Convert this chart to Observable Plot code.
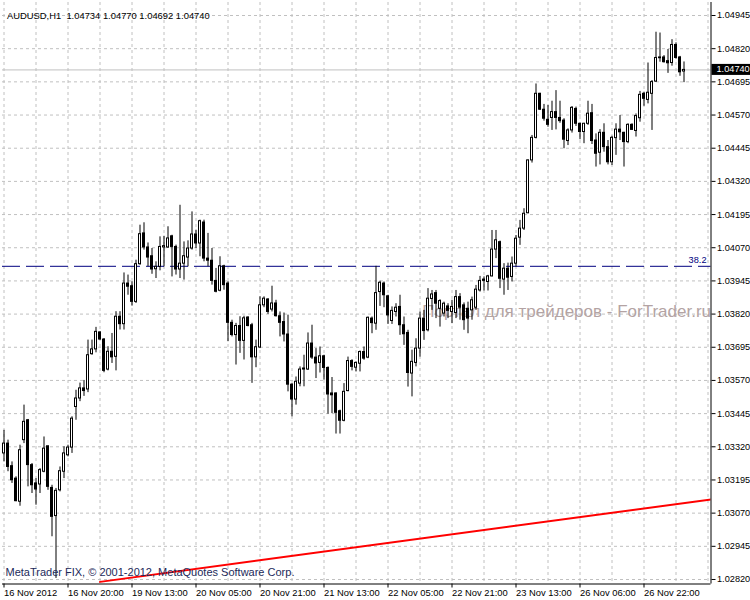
<!DOCTYPE html>
<html><head><meta charset="utf-8">
<script src="https://cdn.jsdelivr.net/npm/d3@7"></script>
<script src="https://cdn.jsdelivr.net/npm/@observablehq/plot@0.6"></script>
<style>
body{margin:0;background:#fff;}
#chart{width:750px;height:600px;}
svg{display:block}
</style></head><body><div id="chart"></div>
<script>
const header = "AUDUSD,H1  1.04734 1.04770 1.04692 1.04740";
const copyright = "MetaTrader FIX, \u00a9 2001-2012, MetaQuotes Software Corp.";
const watermark = "Портал для трейдеров - ForTrader.ru";

const open = [
1.03295,1.03332,1.03247,1.03200,1.03113,1.03345,1.03420,1.03251,1.03182,1.03178,
1.03226,1.03322,1.03165,1.03059,1.03156,1.03226,1.03288,1.03317,1.03470,1.03502,
1.03540,1.03536,1.03669,1.03687,1.03751,1.03724,1.03611,1.03678,1.03659,1.03810,
1.03782,1.03935,1.03925,1.03866,1.04008,1.04124,1.04071,1.04038,1.03989,1.03998,
1.04071,1.04071,1.04113,1.04073,1.03988,1.04010,1.04033,1.04067,1.04120,1.04086,
1.04165,1.04029,1.04021,1.03945,1.03908,1.04000,1.03935,1.03787,1.03741,1.03775,
1.03719,1.03807,1.03778,1.03657,1.03694,1.03853,1.03875,1.03837,1.03860,1.03812,
1.03790,1.03743,1.03554,1.03498,1.03558,1.03615,1.03611,1.03709,1.03656,1.03636,
1.03661,1.03617,1.03521,1.03521,1.03454,1.03418,1.03530,1.03643,1.03618,1.03633,
1.03677,1.03656,1.03803,1.03784,1.03903,1.03935,1.03887,1.03794,1.03828,1.03847,
1.03778,1.03749,1.03596,1.03636,1.03690,1.03803,1.03759,1.03877,1.03899,1.03840,
1.03822,1.03849,1.03828,1.03824,1.03884,1.03853,1.03840,1.03834,1.03844,1.03909,
1.03950,1.03941,1.03962,1.04063,1.04091,1.03950,1.03991,1.03960,1.04010,1.04108,
1.04142,1.04200,1.04399,1.04484,1.04650,1.04590,1.04552,1.04559,1.04581,1.04559,
1.04549,1.04472,1.04512,1.04593,1.04537,1.04506,1.04537,1.04577,1.04474,1.04428,
1.04503,1.04449,1.04392,1.04483,1.04515,1.04503,1.04468,1.04533,1.04510,1.04558,
1.04650,1.04627,1.04650,1.04696,1.04787,1.04787,1.04773,1.04766,1.04834,1.04787,
1.04734];
const high = [
1.03382,1.03345,1.03263,1.03207,1.03326,1.03477,1.03423,1.03257,1.03200,1.03238,
1.03357,1.03322,1.03175,1.03163,1.03244,1.03320,1.03326,1.03433,1.03533,1.03560,
1.03570,1.03722,1.03722,1.03770,1.03753,1.03728,1.03697,1.03747,1.03829,1.03829,
1.03975,1.03967,1.03942,1.04023,1.04155,1.04164,1.04088,1.04067,1.04017,1.04111,
1.04113,1.04149,1.04117,1.04080,1.04230,1.04092,1.04096,1.04205,1.04136,1.04174,
1.04174,1.04124,1.04067,1.03992,1.04036,1.04004,1.03942,1.03797,1.03785,1.03810,
1.03812,1.03810,1.03785,1.03722,1.03885,1.03885,1.03878,1.03925,1.03872,1.03828,
1.03824,1.03816,1.03558,1.03583,1.03621,1.03665,1.03749,1.03778,1.03690,1.03696,
1.03665,1.03621,1.03581,1.03523,1.03458,1.03558,1.03658,1.03648,1.03640,1.03681,
1.03696,1.03809,1.03809,1.04000,1.03944,1.03941,1.03891,1.03847,1.03859,1.03891,
1.03809,1.03759,1.03684,1.03727,1.03828,1.03834,1.03916,1.03909,1.03909,1.03874,
1.03865,1.03859,1.03872,1.03909,1.03897,1.03862,1.03865,1.03884,1.03928,1.03962,
1.03960,1.03966,1.04135,1.04135,1.04095,1.04010,1.04012,1.04035,1.04116,1.04173,
1.04217,1.04401,1.04493,1.04687,1.04652,1.04610,1.04606,1.04622,1.04662,1.04622,
1.04556,1.04518,1.04602,1.04600,1.04539,1.04539,1.04622,1.04610,1.04499,1.04515,
1.04537,1.04474,1.04490,1.04537,1.04568,1.04505,1.04537,1.04537,1.04574,1.04659,
1.04656,1.04766,1.04700,1.04882,1.04879,1.04794,1.04817,1.04854,1.04842,1.04791,
1.04770];
const low = [
1.03263,1.03226,1.03182,1.03113,1.03096,1.03332,1.03169,1.03144,1.03100,1.03144,
1.03222,1.03156,1.02981,1.02824,1.03150,1.03200,1.03282,1.03295,1.03420,1.03490,
1.03510,1.03524,1.03665,1.03674,1.03722,1.03599,1.03606,1.03634,1.03606,1.03760,
1.03760,1.03891,1.03850,1.03860,1.04004,1.04061,1.03998,1.03970,1.03954,1.03983,
1.03998,1.04067,1.03960,1.03967,1.03954,1.03948,1.03998,1.04061,1.04067,1.04036,
1.04017,1.03998,1.03929,1.03900,1.03904,1.03910,1.03716,1.03734,1.03628,1.03672,
1.03647,1.03772,1.03559,1.03618,1.03690,1.03844,1.03819,1.03828,1.03809,1.03734,
1.03715,1.03527,1.03433,1.03477,1.03546,1.03546,1.03608,1.03649,1.03577,1.03598,
1.03571,1.03443,1.03445,1.03368,1.03368,1.03414,1.03527,1.03606,1.03602,1.03602,
1.03646,1.03652,1.03746,1.03759,1.03849,1.03844,1.03781,1.03781,1.03809,1.03740,
1.03702,1.03545,1.03508,1.03621,1.03658,1.03721,1.03753,1.03834,1.03803,1.03771,
1.03809,1.03803,1.03784,1.03803,1.03797,1.03759,1.03746,1.03797,1.03834,1.03903,
1.03907,1.03907,1.03960,1.04029,1.03916,1.03891,1.03909,1.03941,1.03997,1.04079,
1.04135,1.04198,1.04389,1.04480,1.04587,1.04547,1.04524,1.04512,1.04514,1.04539,
1.04443,1.04455,1.04502,1.04527,1.04477,1.04462,1.04531,1.04459,1.04374,1.04382,
1.04430,1.04382,1.04380,1.04418,1.04474,1.04374,1.04462,1.04512,1.04487,1.04543,
1.04603,1.04612,1.04512,1.04693,1.04769,1.04766,1.04727,1.04754,1.04781,1.04716,
1.04692];
const close = [
1.03332,1.03244,1.03194,1.03115,1.03307,1.03414,1.03251,1.03175,1.03159,1.03232,
1.03313,1.03169,1.03056,1.03154,1.03228,1.03295,1.03317,1.03426,1.03502,1.03540,
1.03530,1.03665,1.03687,1.03753,1.03724,1.03606,1.03678,1.03657,1.03810,1.03782,
1.03935,1.03923,1.03866,1.04008,1.04121,1.04071,1.04033,1.03988,1.03998,1.04073,
1.04076,1.04105,1.04073,1.03988,1.04010,1.04038,1.04067,1.04120,1.04086,1.04170,
1.04029,1.04021,1.03945,1.03904,1.04000,1.03929,1.03787,1.03741,1.03775,1.03719,
1.03804,1.03775,1.03657,1.03695,1.03853,1.03878,1.03828,1.03860,1.03812,1.03787,
1.03743,1.03554,1.03498,1.03565,1.03611,1.03611,1.03709,1.03656,1.03634,1.03661,
1.03617,1.03517,1.03514,1.03448,1.03418,1.03527,1.03643,1.03621,1.03636,1.03677,
1.03652,1.03806,1.03786,1.03899,1.03938,1.03891,1.03815,1.03832,1.03844,1.03778,
1.03744,1.03598,1.03640,1.03690,1.03803,1.03756,1.03878,1.03894,1.03859,1.03869,
1.03859,1.03832,1.03847,1.03884,1.03844,1.03797,1.03803,1.03872,1.03912,1.03945,
1.03945,1.03962,1.04063,1.04098,1.03953,1.03991,1.03957,1.04010,1.04104,1.04142,
1.04198,1.04399,1.04484,1.04650,1.04590,1.04556,1.04533,1.04581,1.04559,1.04547,
1.04477,1.04512,1.04597,1.04537,1.04506,1.04537,1.04575,1.04472,1.04424,1.04503,
1.04449,1.04392,1.04484,1.04515,1.04505,1.04468,1.04533,1.04514,1.04566,1.04646,
1.04631,1.04654,1.04694,1.04785,1.04784,1.04769,1.04765,1.04834,1.04785,1.04731,
1.04740];

const priceTicks = [1.02820,1.02945,1.03070,1.03195,1.03320,1.03445,1.03570,1.03695,1.03820,
  1.03945,1.04070,1.04195,1.04320,1.04445,1.04570,1.04695,1.04820,1.04945];
const tickBars = [0,16,32,48,64,80,96,112,128,144,160];
const tickLabels = ["16 Nov 2012","16 Nov 20:00","19 Nov 13:00","20 Nov 05:00","20 Nov 21:00",
  "21 Nov 13:00","22 Nov 05:00","22 Nov 21:00","23 Nov 13:00","26 Nov 06:00","26 Nov 22:00"];
const gridBars = [0,8,16,24,32,40,48,56,64,72,80,88,96,104,112,120,128,136,144,152,160,168,176];
const lastClose = 1.04740;
const fibLabels = ["38.2"];
const fibPrices = [1.04000];
const trendBars = [24, 177];
const trendPrices = [1.02811, 1.03122];

const bars = open.map((o, i) => ({i, o, h: high[i], l: low[i], c: close[i], up: close[i] >= o}));
const fibs = fibLabels.map((label, k) => ({label, price: fibPrices[k]}));
const trend = trendBars.map((b, k) => ({b, p: trendPrices[k]}));

const xDomain = [-0.375, 176.75];
const yDomain = [1.02803, 1.04994];
const grid = "#c0c0c0";
const font = "'Liberation Sans', Arial, sans-serif";

const chart = Plot.plot({
  width: 750, height: 600,
  marginLeft: 2, marginRight: 39.5, marginTop: 2, marginBottom: 16.5,
  x: {domain: xDomain},
  y: {domain: yDomain},
  style: {fontFamily: font, fontSize: "9.2px", background: "white", color: "black"},
  marks: [
    Plot.ruleX(gridBars, {x: d => d, stroke: grid, strokeDasharray: "3,3"}),
    Plot.ruleY(priceTicks, {y: d => d, stroke: grid, strokeDasharray: "3,3"}),
    Plot.text([watermark], {text: d => d, frameAnchor: "right", textAnchor: "end", dx: 0, dy: 18, fontSize: 17, fill: "#b3a3a3"}),
    Plot.ruleY([lastClose], {y: d => d, stroke: grid}),
    Plot.ruleY(fibs, {y: "price", stroke: "#000080", strokeDasharray: "18,6"}),
    Plot.text(fibs, {y: "price", text: "label", frameAnchor: "right", textAnchor: "end", dx: -4.5, dy: -6, fill: "#000080"}),
    Plot.ruleX(bars, {x: "i", y1: "l", y2: "h", stroke: "black", strokeWidth: 1}),
    Plot.rect(bars, {x1: d => d.i - 0.375, x2: d => d.i + 0.375, y1: "o", y2: "c", fill: "black", insetTop: -0.5, insetBottom: -0.5}),
    Plot.rect(bars.filter(d => d.up), {x1: d => d.i - 0.125, x2: d => d.i + 0.125, y1: "o", y2: "c", fill: "white", insetTop: 0.5, insetBottom: 0.5}),
    Plot.line(trend, {x: "b", y: "p", stroke: "#ff0000", strokeWidth: 2, clip: true}),
    Plot.text([header], {text: d => d, frameAnchor: "top-left", textAnchor: "start", dx: 4.5, dy: 9.7, fill: "black", fontSize: 9.4}),
    Plot.text([copyright], {text: d => d, frameAnchor: "bottom-left", textAnchor: "start", dx: 3, dy: -8.5, fill: "#1c2a5a", fontSize: 11}),
    Plot.ruleX([xDomain[1]], {x: d => d, stroke: "black"}),
    Plot.ruleY([yDomain[0]], {y: d => d, stroke: "black"}),
    Plot.axisY(priceTicks, {anchor: "right", tickSize: 4, tickPadding: 2, tickFormat: d3.format(".5f"), label: null}),
    Plot.axisX(tickBars, {anchor: "bottom", tickSize: 4, tickPadding: 1, textAnchor: "start", fontSize: 9.4, tickFormat: d => tickLabels[tickBars.indexOf(d)], label: null})
  ]
});

// current price marker on the price axis
const ys = chart.scale("y"), xs = chart.scale("x");
const yp = ys.apply(lastClose), xr = xs.apply(xDomain[1]);
const svg = d3.select(chart);
svg.append("rect").attr("x", xr + 1).attr("y", yp - 5.5).attr("width", 750 - xr - 1).attr("height", 11).attr("fill", "black");
svg.append("text").attr("x", xr + 6).attr("y", yp).attr("dy", "0.32em").attr("fill", "white")
  .attr("text-anchor", "start").attr("font-family", font).attr("font-size", "9.2px")
  .text(d3.format(".5f")(lastClose));

document.getElementById("chart").appendChild(chart);
</script></body></html>
